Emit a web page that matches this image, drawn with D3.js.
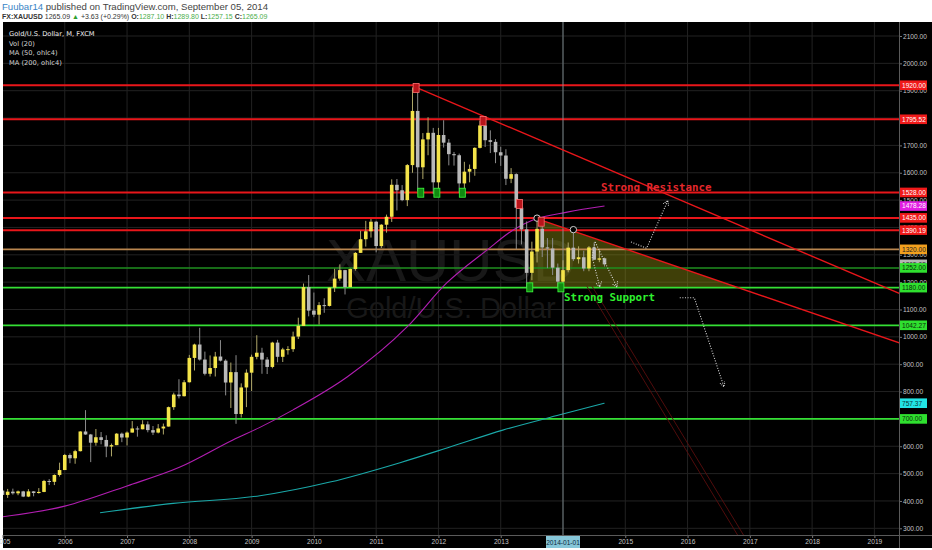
<!DOCTYPE html>
<html><head><meta charset="utf-8">
<script src="https://cdn.jsdelivr.net/npm/d3@7"></script>
<style>body{margin:0;background:#fff}svg{display:block}</style>
</head><body>
<svg id="c" width="932" height="550"></svg>
<script>
// ---------- DATA (monthly, starting Jan 2005) ----------
const startYear = 2005;
const opens = [
 438,422,434,428,435,416,435,429,433,473,470,495,
 513,568,556,582,654,643,613,633,623,599,604,646,
 632,650,665,662,680,659,650,665,672,743,789,783,
 834,923,972,917,865,886,928,913,833,871,718,815,
 869,927,942,917,890,979,927,954,955,1001,1040,1182,
 1096,1081,1116,1113,1180,1213,1244,1182,1248,1307,1357,1386,
 1421,1332,1410,1439,1556,1536,1500,1628,1826,1620,1722,1746,
 1565,1738,1710,1668,1664,1561,1604,1614,1691,1773,1719,1713,
 1675,1663,1578,1595,1472,1393,1234,1312,1395,1327,1323,1253,
 1202,1244,1326,1284,1291,1250,1327,1282,1287.10];
const highs = [
 438,444,445,438,437,443,436,447,477,480,497,540,
 572,574,587,655,732,645,663,652,640,610,648,650,
 654,692,673,695,691,674,681,683,745,796,845,842,
 934,975,1033,946,932,945,988,918,906,933,830,881,
 935,1006,960,926,982,989,960,966,1019,1070,1195,1226,
 1162,1127,1141,1180,1249,1265,1245,1250,1310,1388,1424,1431,
 1424,1412,1447,1576,1577,1555,1632,1912,1920,1745,1803,1764,
 1764,1792,1723,1676,1670,1640,1630,1693,1790,1795.52,1755,1723,
 1695,1686,1617,1598,1488,1422,1348,1434,1424,1361,1361,1268,
 1280,1345,1392,1331,1315,1332,1345,1322,1289.80];
const lows = [
 414,411,423,421,414,414,417,427,432,458,458,489,
 513,538,536,581,642,542,602,607,560,563,604,615,
 603,650,635,662,651,641,647,643,672,733,775,782,
 833,877,913,859,855,855,910,786,740,682,705,743,
 802,918,865,864,885,907,908,935,945,992,1040,1075,
 1072,1045,1088,1111,1164,1205,1155,1182,1242,1307,1330,1363,
 1309,1325,1381,1420,1462,1496,1478,1600,1532,1577,1664,1522,
 1524,1692,1627,1626,1526,1542,1565,1589,1689,1694,1672,1635,
 1625,1555,1562,1321,1338,1180,1207,1272,1292,1251,1226,1182,
 1200,1236,1277,1268,1240,1240,1281,1273,1257.15];
const closes = [
 422,434,428,435,416,435,429,433,473,470,495,513,
 568,556,582,654,643,613,633,623,599,604,646,632,
 650,665,662,680,659,650,665,672,743,789,783,834,
 923,972,917,865,886,928,913,833,871,718,815,869,
 927,942,917,890,979,927,954,955,1001,1040,1182,1096,
 1081,1116,1113,1180,1213,1244,1182,1248,1307,1357,1386,1421,
 1332,1410,1439,1556,1536,1500,1628,1826,1620,1722,1746,1565,
 1738,1710,1668,1664,1561,1604,1614,1691,1773,1719,1713,1675,
 1663,1578,1595,1472,1393,1234,1312,1395,1327,1323,1253,1202,
 1244,1326,1284,1291,1250,1327,1282,1287,1265.09];

// moving averages (month index, value)
const ma50Months = [0,12,24,34.2,44.4,49.6,56,66.4,78,85.6,93.4,98.4,102.2,108.8,116];
const ma50Values = [342,381,455,524,623,669,733,853,1037,1197,1318,1391,1427,1456,1478.28];
const ma200Months = [18.8,32.9,49.6,63.1,76.6,86.2,96.4,107.4,116];
const ma200Values = [357,391,419,469,540,597,659,715,757.37];

// horizontal levels
const resistanceLevels = [1920, 1795.52, 1528, 1435, 1390.19];
const pivotLevels = [1320];
const supportLevels = [1252, 1180, 1042.27, 700];
const lastPrice = 1265.09;

// drawings (month index, price)
const trendLines = [[[79.7,1912],[173,1157]], [[103.8,1427],[173,977]]];
const fallLines = [[[112.6,1185],[145,170]], [[113.6,1185],[146,175]]];
const triangle = [[103.8,1427],[101.3,1180],[141.8,1180]];
const dottedPaths = [
  [[121.1,1347],[124.1,1324],[128.2,1498]],
  [[130.5,1143],[133.3,1143],[139.0,818]],
  [[114.2,1347],[113.6,1292],[115.1,1182]],
  [[114.2,1347],[116.5,1256],[118.4,1182]]
];
const circles = [[103,1434],[110,1392]];
const redMarks = [[79.7,1910],[92.6,1789],[99.6,1486],[103.8,1421]];
const greenMarks = [[80.6,1527],[83.7,1527],[88.6,1527],[101.6,1181],[107.6,1181]];
const yearTicks = d3.range(2005, 2020);
const priceTicks = d3.range(300, 2101, 100);

// ---------- LAYOUT ----------
const W = 932, H = 550;
const paneL = 3, paneR = 899, paneT = 22, paneB = 535;
const x = d3.scaleLinear().domain([0,168]).range([2.48, 874.4]);
const y = d3.scaleLinear().domain([300,2100]).range([528.3, 36]);

const svg = d3.select('#c');
const F = "'Liberation Sans', Arial, sans-serif";
const FD = "'DejaVu Sans', Verdana, sans-serif";
svg.append('rect').attr('width',W).attr('height',H).attr('fill','#fff');
svg.append('rect').attr('x',paneL).attr('y',paneT).attr('width',W-paneL).attr('height',548-paneT).attr('fill','#000');

const defs = svg.append('defs');
defs.append('clipPath').attr('id','pane').append('rect')
  .attr('x',paneL).attr('y',paneT).attr('width',paneR-paneL).attr('height',paneB-paneT);
defs.append('marker').attr('id','arr').attr('markerUnits','userSpaceOnUse')
  .attr('markerWidth',10).attr('markerHeight',10).attr('refX',5).attr('refY',3).attr('orient','auto')
  .append('path').attr('d','M0,0 L5,3 L0,6').attr('fill','none').attr('stroke','#ddd')
  .attr('stroke-width',1).attr('stroke-dasharray','1,1');

const pane = svg.append('g').attr('clip-path','url(#pane)');

// grid
pane.selectAll('line.hg').data(priceTicks).join('line')
  .attr('x1',paneL).attr('x2',paneR).attr('y1',d=>y(d)).attr('y2',d=>y(d))
  .attr('stroke','#222').attr('stroke-width',1);
pane.selectAll('line.vg').data(yearTicks).join('line')
  .attr('x1',d=>x((d-startYear)*12)).attr('x2',d=>x((d-startYear)*12))
  .attr('y1',paneT).attr('y2',paneB).attr('stroke','#222').attr('stroke-width',1);

// watermark
pane.append('text').attr('x',451).attr('y',281).attr('text-anchor','middle')
  .attr('font-family',F).attr('font-size',60).attr('fill','#181818').text('XAUUSD');
pane.append('text').attr('x',451).attr('y',318).attr('text-anchor','middle')
  .attr('font-family',F).attr('font-size',29).attr('fill','#181818').text('Gold/U.S. Dollar');

// legend
const leg = ['Gold/U.S. Dollar, M, FXCM','Vol (20)','MA (50, ohlc4)','MA (200, ohlc4)'];
pane.selectAll('text.leg').data(leg).join('text')
  .attr('x',9).attr('y',(d,i)=>[36,45.5,55,64.5][i])
  .attr('font-family',FD).attr('font-size',6.7).attr('fill',(d,i)=>i===0?'#f0f0f0':'#d4d4d4')
  .text(d=>d);

// triangle shading
pane.append('path').attr('d', d3.line().x(d=>x(d[0])).y(d=>y(d[1]))(triangle)+'Z')
  .attr('fill','rgba(150,150,20,0.42)').attr('stroke','none');

// horizontal levels
function level(v, color, w){
  pane.append('line').attr('x1',paneL).attr('x2',paneR).attr('y1',y(v)).attr('y2',y(v))
   .attr('stroke',color).attr('stroke-width',w);
}
resistanceLevels.forEach(v=>level(v,'#e8161a',2));
pivotLevels.forEach(v=>level(v,'#b9864f',1.6));
supportLevels.forEach((v,i)=>level(v, i===0?'#1f8f1f':'#35e035', i===0?1.5:1.8));

// MAs
const maLine = d3.line().x(d=>x(d[0])).y(d=>y(d[1])).curve(d3.curveMonotoneX);
pane.append('path').attr('d', maLine(ma50Months.map((m,i)=>[m,ma50Values[i]])))
  .attr('fill','none').attr('stroke','#b21eb2').attr('stroke-width',1.1);
pane.append('path').attr('d', maLine(ma200Months.map((m,i)=>[m,ma200Values[i]])))
  .attr('fill','none').attr('stroke','#1aa8a8').attr('stroke-width',1.1);

// crosshair vertical
pane.append('line').attr('x1',x(108)).attr('x2',x(108)).attr('y1',paneT).attr('y2',paneB)
  .attr('stroke','#8a9a9e').attr('stroke-width',0.8);

// candles
const bw = 3.6;
const cg = pane.append('g');
closes.forEach((c,i)=>{
  const o = opens[i], up = c >= o;
  const cx = x(i);
  cg.append('line').attr('x1',cx).attr('x2',cx).attr('y1',y(highs[i])).attr('y2',y(lows[i]))
    .attr('stroke', up ? '#b0a86a' : '#8c8c8c').attr('stroke-width',1);
  const top = y(Math.max(o,c)), bot = y(Math.min(o,c));
  cg.append('rect').attr('x',cx-bw/2).attr('y',top).attr('width',bw).attr('height',Math.max(1,bot-top))
    .attr('fill', up ? '#f4e44a' : '#b9b9b9');
});

// trend lines
trendLines.forEach(l=>{
  pane.append('line').attr('x1',x(l[0][0])).attr('y1',y(l[0][1])).attr('x2',x(l[1][0])).attr('y2',y(l[1][1]))
    .attr('stroke','#e8161a').attr('stroke-width',1.4);
});
fallLines.forEach(l=>{
  pane.append('line').attr('x1',x(l[0][0])).attr('y1',y(l[0][1])).attr('x2',x(l[1][0])).attr('y2',y(l[1][1]))
    .attr('stroke','#5a0d0d').attr('stroke-width',0.9);
});

// dotted arrows
dottedPaths.forEach(p=>{
  pane.append('path').attr('d', d3.line().x(d=>x(d[0])).y(d=>y(d[1]))(p))
    .attr('fill','none').attr('stroke','#d8d8d8').attr('stroke-width',1.1)
    .attr('stroke-dasharray','1,1.6').attr('marker-end','url(#arr)');
});

// circles
pane.selectAll('circle.pk').data(circles).join('circle')
  .attr('cx',d=>x(d[0])).attr('cy',d=>y(d[1])).attr('r',3.2)
  .attr('fill','#000').attr('stroke','#cfcfcf').attr('stroke-width',1);

// markers
pane.selectAll('rect.rm').data(redMarks).join('rect')
  .attr('x',d=>x(d[0])-3).attr('y',d=>y(d[1])-4.5).attr('width',6).attr('height',9)
  .attr('fill','#b8141a').attr('stroke','#ff7070').attr('stroke-width',0.8);
pane.selectAll('rect.gm').data(greenMarks).join('rect')
  .attr('x',d=>x(d[0])-3).attr('y',d=>y(d[1])-4.5).attr('width',6).attr('height',9)
  .attr('fill','#118a11').attr('stroke','#3cff3c').attr('stroke-width',0.8);

// annotations
pane.append('text').attr('x',601).attr('y',190.5).attr('font-family',"'DejaVu Sans Mono', monospace")
  .attr('font-size',10.8).attr('font-weight','bold').attr('fill','#e4282c').text('Strong Resistance');
pane.append('text').attr('x',564).attr('y',300.5).attr('font-family',"'DejaVu Sans Mono', monospace")
  .attr('font-size',10.8).attr('font-weight','bold').attr('fill','#2ff02f').text('Strong Support');

// ---------- AXES ----------
// right price axis
const ya = svg.append('g').attr('transform',`translate(${paneR},0)`)
  .call(d3.axisRight(y).tickValues(priceTicks).tickFormat(d=>d.toFixed(2)).tickSize(3).tickPadding(1));
ya.select('.domain').remove();
ya.selectAll('line').attr('stroke','#777');
ya.selectAll('text').attr('font-family',F).attr('font-size',6.6).attr('fill','#c4c4c4');
svg.append('line').attr('x1',paneR+0.5).attr('x2',paneR+0.5).attr('y1',paneT).attr('y2',548).attr('stroke','#5a5a5a');

// bottom time axis
const xa = svg.append('g').attr('transform',`translate(0,${paneB})`)
  .call(d3.axisBottom(x).tickValues(yearTicks.map(yy=>(yy-startYear)*12))
    .tickFormat(m=>{const yy=startYear+m/12; return yy===2014?'':String(yy);}).tickSize(3).tickPadding(1.5));
xa.select('.domain').remove();
xa.selectAll('line').attr('stroke','#777');
xa.selectAll('text').attr('font-family',F).attr('font-size',6.6).attr('fill','#c4c4c4');
svg.append('line').attr('x1',paneL).attr('x2',W).attr('y1',paneB+0.5).attr('y2',paneB+0.5).attr('stroke','#5a5a5a');
// highlighted crosshair date
svg.append('rect').attr('x',x(108)-17).attr('y',paneB+1).attr('width',34).attr('height',12).attr('fill','#86c6d8');
svg.append('text').attr('x',x(108)).attr('y',paneB+9.5).attr('text-anchor','middle')
  .attr('font-family',F).attr('font-size',6.6).attr('fill','#0c2a40').text('2014-01-01');

// price labels on axis
function tag(v, bg, fg){
  svg.append('rect').attr('x',paneR+1).attr('y',y(v)-4.8).attr('width',27).attr('height',9.6).attr('fill',bg);
  svg.append('text').attr('x',paneR+3).attr('y',y(v)+2.4).attr('font-family',F).attr('font-size',6.6)
    .attr('fill',fg).text(v.toFixed(2));
}
tag(lastPrice,'#b5b5b5','#222');
resistanceLevels.forEach(v=>tag(v,'#f01a1a','#fff'));
pivotLevels.forEach(v=>tag(v,'#f2a01e','#222'));
supportLevels.forEach(v=>tag(v,'#2fe02f','#0a2a0a'));
tag(ma50Values[ma50Values.length-1],'#e21ee2','#fff');
tag(ma200Values[ma200Values.length-1],'#22e4e4','#0a3a3a');

// ---------- HEADER ----------
const h1 = svg.append('text').attr('x',2).attr('y',9.5).attr('font-family',F).attr('font-size',9.6);
h1.append('tspan').attr('fill','#3a85c6').text('Fuubar14');
h1.append('tspan').attr('fill','#444').text(' published on TradingView.com, September 05, 2014');
const h2 = svg.append('text').attr('x',2).attr('y',19.3).attr('font-family',F).attr('font-size',7.0);
const seg = [
 ['FX:XAUUSD','#333','bold'],[' 1265.09 ','#333','normal'],['▲','#2e9e2e','normal'],[' +3.63 (+0.29%) ','#333','normal'],
 ['O:','#333','bold'],['1287.10 ','#4cae4c','normal'],['H:','#333','bold'],['1289.80 ','#4cae4c','normal'],
 ['L:','#333','bold'],['1257.15 ','#4cae4c','normal'],['C:','#333','bold'],['1265.09','#4cae4c','normal']];
seg.forEach(s=>h2.append('tspan').attr('fill',s[1]).attr('font-weight',s[2]).text(s[0]));
svg.append('rect').attr('x',0).attr('y',548).attr('width',W).attr('height',2).attr('fill','#fff');
</script>
</body></html>
